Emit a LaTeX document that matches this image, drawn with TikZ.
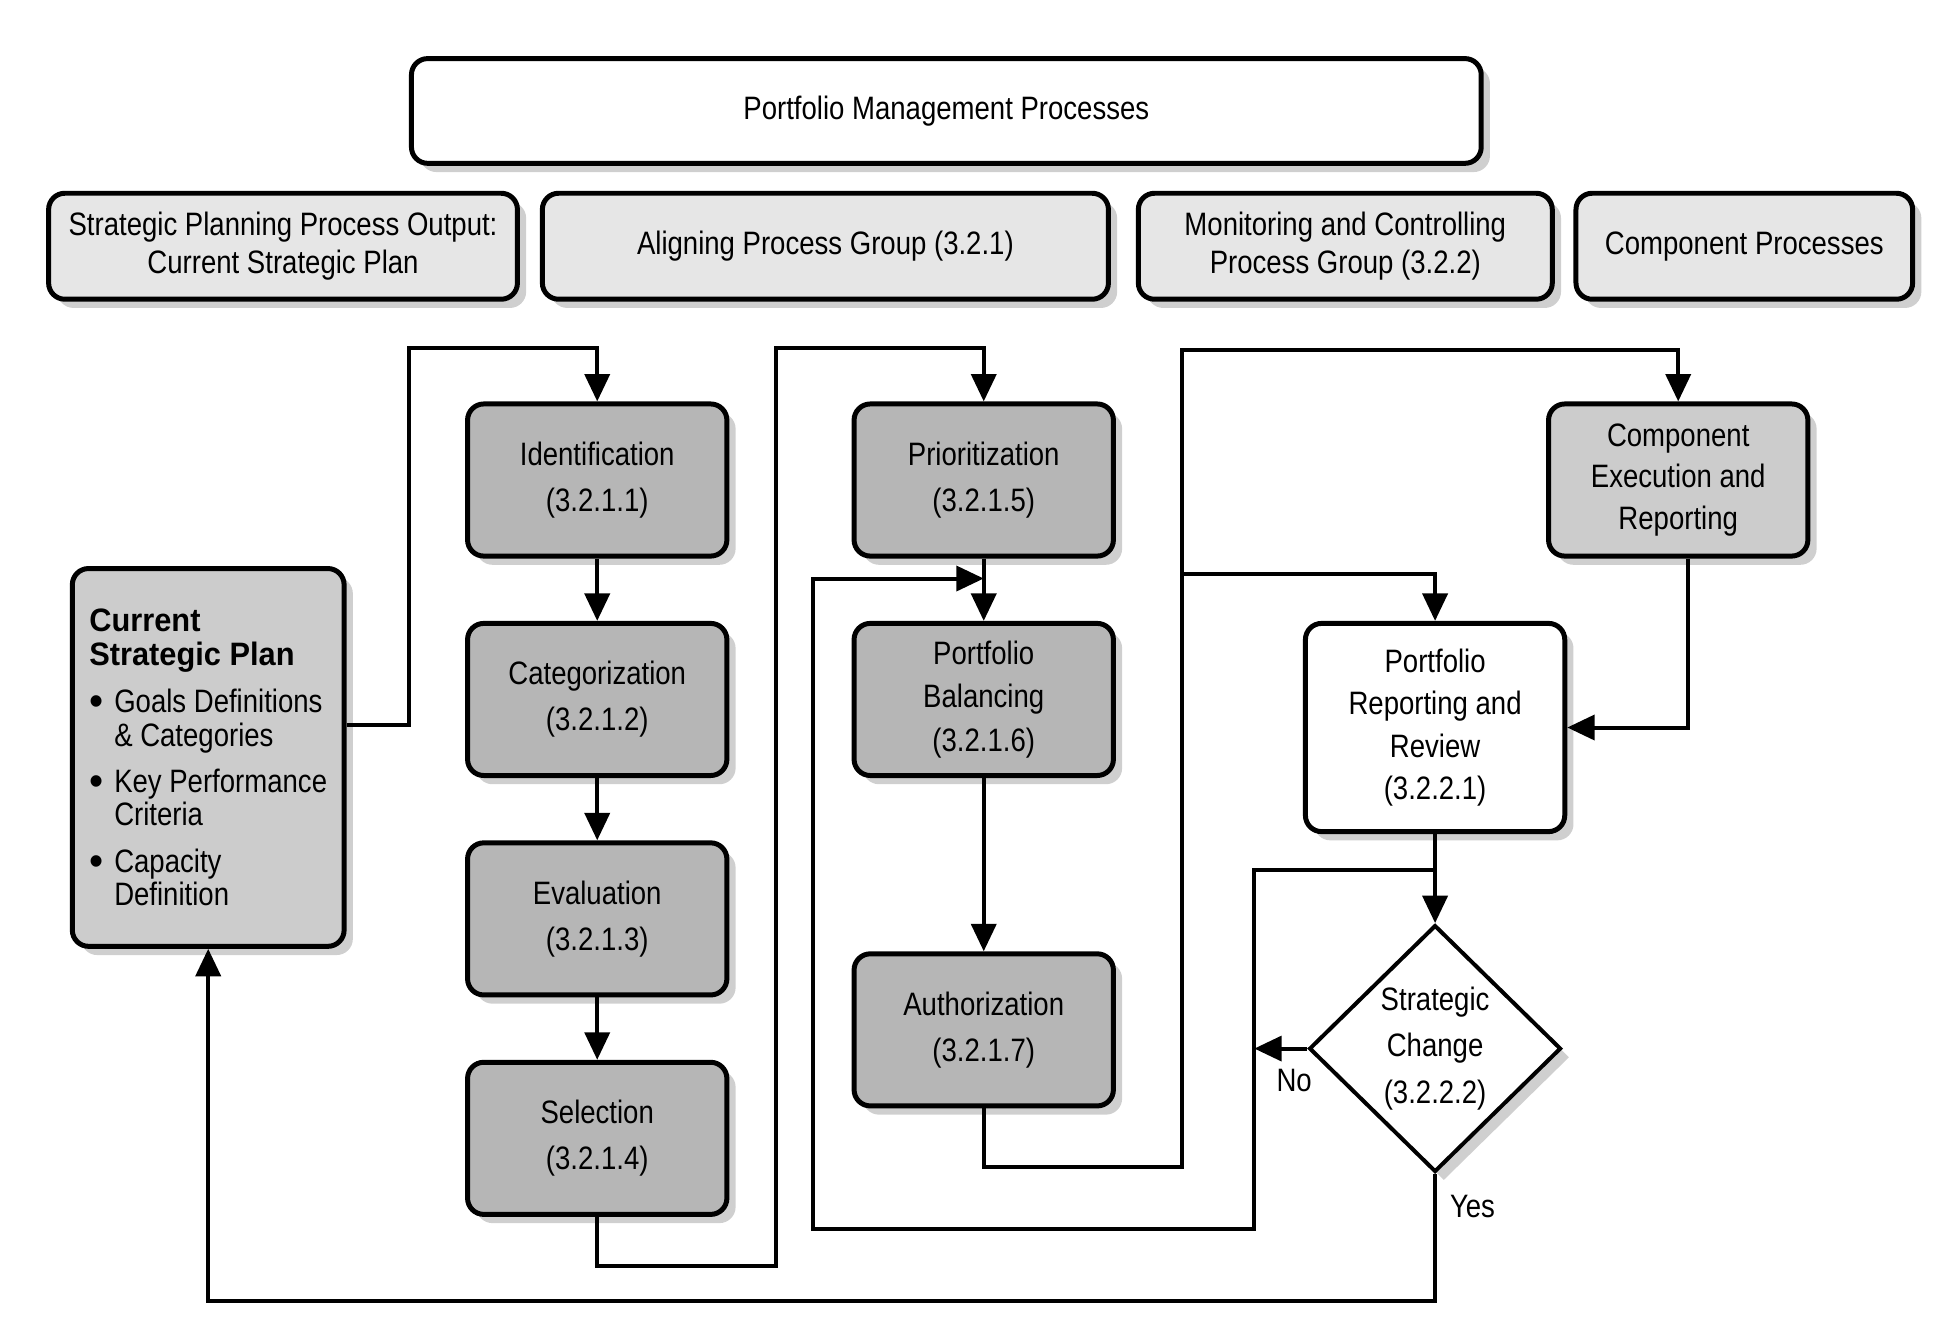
\documentclass[tikz,border=0pt]{standalone}
\usepackage{fontspec}
\setmainfont{Liberation Sans}[FakeStretch=0.85]
\newfontfamily\headfont{Liberation Sans}[FakeStretch=0.95]
\usetikzlibrary{shapes.geometric,positioning,calc,shadows,arrows.meta}
\definecolor{processgray}{HTML}{B6B6B6}
\definecolor{plangray}{HTML}{CCCCCC}
\definecolor{groupgray}{HTML}{E6E6E6}
\definecolor{shadowgray}{HTML}{CFCFCF}
\newcommand{\planhead}[1]{{\headfont\bfseries #1}}
\newcommand{\planitem}{\makebox[10pt][l]{\raisebox{-1.3pt}{\headfont\fontsize{17}{13.5}\selectfont\textbullet}}}
\newcommand{\planindent}{\hspace*{10pt}}
\tikzset{
    shadowed/.style={drop shadow={shadow xshift=3.5pt, shadow yshift=-3.5pt, fill=shadowgray, opacity=1}},
    link/.style={line width=1.6pt, -{Triangle[length=11pt, width=10pt]}},
}

\begin{document}
\begin{tikzpicture}[x=0.5pt, y=-0.5pt, font=\fontsize{13}{15}\selectfont,
    box/.style={rectangle, rounded corners=6.5pt, draw, line width=2pt, align=center, shadowed, inner sep=2pt},
    group/.style={box, fill=groupgray, minimum height=42.5pt, font=\fontsize{13}{15}\selectfont},
    process/.style={box, fill=processgray, minimum width=104pt, minimum height=61pt, font=\fontsize{13}{18.5}\selectfont}]
  \useasboundingbox (0,0) rectangle (1568,1074);

  \node [box, fill=white, minimum width=429pt, minimum height=42pt] (management) at (759,89) {Portfolio Management Processes};

  \node [group, minimum width=188pt] (strategicoutput) at (227,197.5) {Strategic Planning Process Output:\\Current Strategic Plan};
  \node [group, minimum width=227pt] (aligning) at (662,197.5) {Aligning Process Group (3.2.1)};
  \node [group, minimum width=166pt] (monitoring) at (1079,197.5) {Monitoring and Controlling\\Process Group (3.2.2)};
  \node [group, minimum width=135pt] (components) at (1399,197.5) {Component Processes};

  \node [box, fill=plangray, minimum width=109pt, minimum height=151.5pt, align=left, font=\fontsize{13}{13.5}\selectfont] (currentplan) at (167,607.5)
    {\planhead{Current}\\
     \planhead{Strategic Plan}\\[5.5pt]
     \planitem Goals Definitions\\
     \planindent\& Categories\\[5pt]
     \planitem Key Performance\\
     \planindent Criteria\\[5pt]
     \planitem Capacity\\
     \planindent Definition};

  \node [process] (identification) at (479,385) {Identification\\(3.2.1.1)};
  \node [process, below=25pt of identification] (categorization) {Categorization\\(3.2.1.2)};
  \node [process, below=25pt of categorization] (evaluation) {Evaluation\\(3.2.1.3)};
  \node [process, below=25pt of evaluation] (selection) {Selection\\(3.2.1.4)};

  \node [process] (prioritization) at (789,385) {Prioritization\\(3.2.1.5)};
  \node [process, below=25pt of prioritization, font=\fontsize{13}{17.5}\selectfont] (balancing) {Portfolio\\Balancing\\(3.2.1.6)};
  \node [process, below=69.5pt of balancing] (authorization) {Authorization\\(3.2.1.7)};

  \node [process, fill=plangray, font=\fontsize{13}{16.75}\selectfont] (execution) at (1346,385) {Component\\Execution and\\Reporting};
  \node [process, fill=white, minimum height=83.5pt, font=\fontsize{13}{17}\selectfont] (reporting) at (1151,583.5) {Portfolio\\Reporting and\\Review\\(3.2.2.1)};
  \node [diamond, draw, line width=1.6pt, fill=white, shadowed, inner sep=0pt, minimum width=101pt, minimum height=99pt, align=center, font=\fontsize{13}{18.5}\selectfont] (change) at (1151,841) {Strategic\\Change\\(3.2.2.2)};

  \node (nolabel) at (1038,867) {No};
  \node (yeslabel) at (1181,968) {Yes};

  % CONNECTORS
  \coordinate (planturn) at (328,279);
  \coordinate (selectturn) at (622,279);
  \coordinate (authturn) at (948,281);
  \coordinate (reportfork) at (948,460);
  \coordinate (noline) at (1006,841);
  \coordinate (nolow) at (1006,986);
  \coordinate (loopcorner) at (652,986);
  \coordinate (nobend) at ($(reporting.south)!0.4!(change.north)$);
  \coordinate (balancein) at ($(prioritization.south)!0.32!(balancing.north)$);

  \draw[link] ([yshift=13pt]currentplan.east) -| (planturn) -| (identification.north);
  \draw[link] (identification) -- (categorization);
  \draw[link] (categorization) -- (evaluation);
  \draw[link] (evaluation) -- (selection);
  \draw[link] (selection.south) -- ++(0,39) -| (selectturn) -| (prioritization.north);
  \draw[link] (prioritization) -- (balancing);
  \draw[link] (balancing) -- (authorization);
  \draw[link] (authorization.south) -- ++(0,47) -| (authturn) -| (execution.north);
  \draw[link] (reportfork) -| (reporting.north);
  \draw[link] ([xshift=4pt]execution.south) |- (reporting.east);
  \draw[link] (reporting) -- (change);
  \draw[link] (change.west) -- (noline);
  \draw[link] (nobend) -| (nolow) -- (loopcorner) |- (balancein);
  \draw[link] (change.south) -- ++(0,102) -| (currentplan.south);
\end{tikzpicture}
\end{document}
